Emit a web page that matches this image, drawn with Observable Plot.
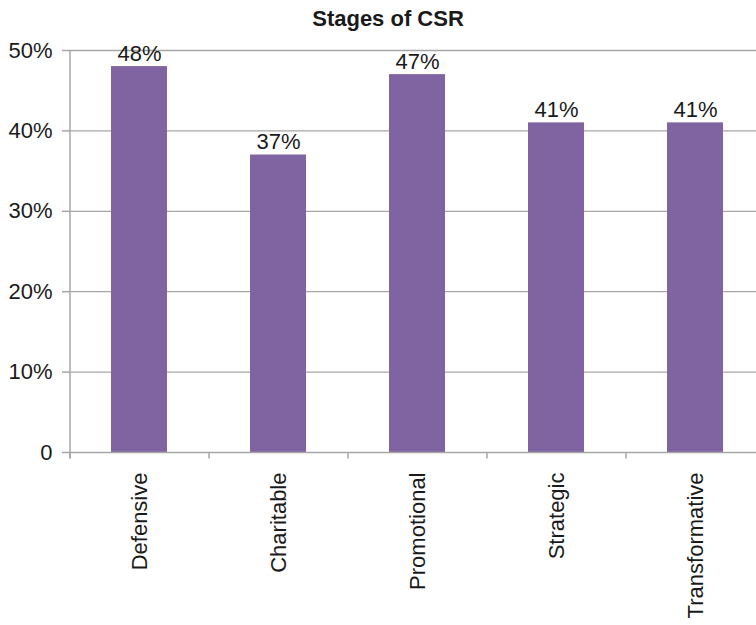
<!DOCTYPE html>
<html>
<head>
<meta charset="utf-8">
<script src="https://cdn.jsdelivr.net/npm/d3@7"></script>
<script src="https://cdn.jsdelivr.net/npm/@observablehq/plot@0.6"></script>
<style>
  html, body { margin: 0; padding: 0; background: #fff; overflow: hidden; }
  #wrap { position: relative; width: 756px; height: 625px; overflow: hidden; }
  #title {
    position: absolute; top: 8px; left: 238px; width: 300px; text-align: center; line-height: 22px;
    font-family: "Liberation Sans", Arial, sans-serif; font-weight: bold; font-size: 22px; color: #1a1a1a;
  }
  #chart svg { overflow: hidden; }
</style>
</head>
<body>
<div id="wrap">
  <div id="chart"></div>
  <div id="title">Stages of CSR</div>
</div>
<script>
// CSR stages and the share reported for each
const stages = ["Defensive", "Charitable", "Promotional", "Strategic", "Transformative"];
const shares = [48, 37, 47, 41, 41];
const yTicks = [0, 10, 20, 30, 40, 50];
const yTickLabels = ["0", "10%", "20%", "30%", "40%", "50%"];

const rows = stages.map((stage, i) => ({stage, share: shares[i], label: shares[i] + "%"}));

const grid = "#a6a6a6";
const ink = "#1a1a1a";
const font = "Liberation Sans, Arial, sans-serif";
const bandWidth = (756 + 8 - 69) / stages.length;

const chart = Plot.plot({
  width: 756,
  height: 625,
  marginTop: 50,
  marginBottom: 173,
  marginLeft: 69,
  marginRight: -8,
  style: {fontFamily: font, fontSize: "22px", color: ink, background: "#fff"},
  x: {domain: stages, paddingInner: 0.6, paddingOuter: 0.3, align: 0.5, axis: null},
  y: {domain: [0, 50], axis: null},
  marks: [
    // horizontal gridlines
    Plot.ruleY(yTicks.filter(d => d > 0), {stroke: grid, strokeWidth: 1.3}),
    // bars
    Plot.barY(rows, {x: "stage", y: "share", fill: "#8064A2"}),
    // baseline and category boundary ticks
    Plot.ruleY([0], {stroke: grid, strokeWidth: 1.5}),
    Plot.ruleX(stages, {x: d => d, dx: -bandWidth / 2, y1: 0, y2: -0.8, stroke: grid, strokeWidth: 1.5}),
    // y axis line
    Plot.ruleX([0], {x: () => stages[0], dx: -bandWidth / 2, y1: -0.8, y2: 50, stroke: grid, strokeWidth: 1.5}),
    // y ticks and labels
    Plot.axisY({
      ticks: yTicks,
      tickFormat: d => yTickLabels[yTicks.indexOf(d)],
      tickSize: 7,
      tickPadding: 10,
      stroke: grid,
      strokeWidth: 1.5,
      fill: ink,
      fontSize: 22,
      label: null
    }),
    // value labels
    Plot.text(rows, {x: "stage", y: "share", text: "label", dy: -6, lineAnchor: "bottom", fill: ink, fontSize: 22}),
    // category labels
    Plot.text(stages, {x: d => d, y: 0, dy: 20, rotate: -90, textAnchor: "end", lineAnchor: "middle", fill: ink, fontSize: 22})
  ]
});

document.getElementById("chart").appendChild(chart);
</script>
</body>
</html>
